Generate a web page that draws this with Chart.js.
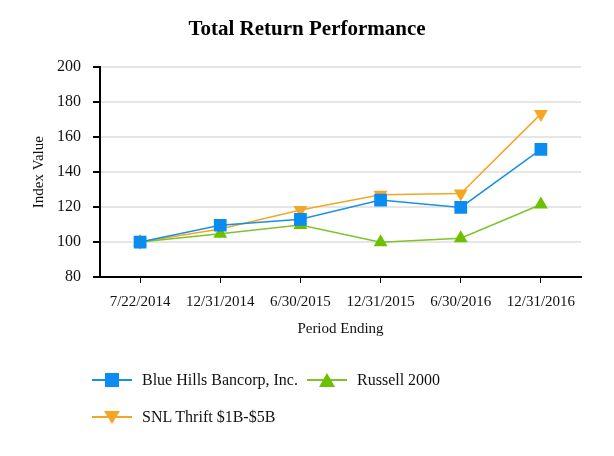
<!DOCTYPE html>
<html>
<head>
<meta charset="utf-8">
<script src="https://cdn.jsdelivr.net/npm/chart.js@4"></script>
<style>
  body { margin: 0; background: #fff; }
  #wrap { position: relative; width: 614px; height: 456px; }
  .leg { position: absolute; font: 16px "Liberation Serif", serif; color: #111; display: flex; align-items: center; }
  .leg svg { margin-right: 10px; }
</style>
</head>
<body>
<div id="wrap">
  <canvas id="grafico" width="614" height="456"></canvas>
  <div class="leg" style="left:92px; top:370px;">
    <svg width="40" height="20"><line x1="0" y1="10" x2="40" y2="10" stroke="#1a8fe3" stroke-width="2"/><rect x="13" y="3" width="14" height="14" fill="#0a8cf0"/></svg>Blue Hills Bancorp, Inc.
  </div>
  <div class="leg" style="left:307px; top:370px;">
    <svg width="40" height="20"><line x1="0" y1="10" x2="40" y2="10" stroke="#7dc42a" stroke-width="2"/><polygon points="20,3 28,17 12,17" fill="#6cc000"/></svg>Russell 2000
  </div>
  <div class="leg" style="left:92px; top:407px;">
    <svg width="40" height="20"><line x1="0" y1="10" x2="40" y2="10" stroke="#f5a623" stroke-width="2"/><polygon points="12,4 28,4 20,17" fill="#f5a623"/></svg>SNL Thrift $1B-$5B
  </div>
</div>
<script>
const periodos = ['7/22/2014', '12/31/2014', '6/30/2015', '12/31/2015', '6/30/2016', '12/31/2016'];
const blueHills = [100, 109.6, 113, 124, 119.8, 153];
const russell2000 = [100, 104.8, 109.7, 99.9, 102.2, 121.5];
const snlThrift = [100, 107.5, 118.3, 127.1, 127.8, 173.3];

const fonteX = { family: '"Liberation Serif", serif', size: 15 };
const fonteY = { family: '"Liberation Serif", serif', size: 16 };

const ctx = document.getElementById('grafico').getContext('2d');
// o primeiro dataset fica por cima
new Chart(ctx, {
  type: 'line',
  data: {
    labels: periodos,
    datasets: [
      {
        label: 'Blue Hills Bancorp, Inc.',
        data: blueHills,
        borderColor: '#1a8fe3',
        backgroundColor: '#0a8cf0',
        borderWidth: 1.5,
        pointStyle: 'rect',
        pointRadius: 9,
        pointBorderWidth: 0
      },
      {
        label: 'Russell 2000',
        data: russell2000,
        borderColor: '#7dc42a',
        backgroundColor: '#6cc000',
        borderWidth: 1.5,
        pointStyle: 'triangle',
        pointRadius: 8,
        pointBorderWidth: 0
      },
      {
        label: 'SNL Thrift $1B-$5B',
        data: snlThrift,
        borderColor: '#f5a623',
        backgroundColor: '#f5a623',
        borderWidth: 1.5,
        pointStyle: 'triangle',
        rotation: 180,
        pointRadius: 8,
        pointBorderWidth: 0
      }
    ]
  },
  options: {
    responsive: false,
    animation: false,
    layout: { padding: { left: 33, right: 33, bottom: 114 } },
    plugins: {
      legend: { display: false },
      tooltip: { enabled: false },
      title: {
        display: true,
        text: 'Total Return Performance',
        color: '#000',
        font: { family: '"Liberation Serif", serif', size: 21, weight: 'bold' },
        padding: { top: 17, bottom: 25 }
      }
    },
    scales: {
      x: {
        offset: true,
        afterFit: s => { s.height = 65; },
        grid: { display: true, drawOnChartArea: false, drawTicks: true, tickLength: 6, tickColor: '#000', offset: false },
        border: { color: '#000', width: 2 },
        ticks: { color: '#111', font: fonteX, padding: 10, maxRotation: 0 },
        title: { display: true, text: 'Period Ending', color: '#111', font: fonteX, padding: { top: 0, bottom: 4 } }
      },
      y: {
        min: 80,
        max: 200,
        afterFit: s => { s.width = 67; },
        grid: { color: '#e6e6e6', lineWidth: 2, tickColor: '#000', tickLength: 7 },
        border: { color: '#000', width: 2 },
        ticks: { stepSize: 20, color: '#111', font: fonteY, padding: 12 },
        title: { display: true, text: 'Index Value', color: '#111', font: fonteX, padding: { top: -3, bottom: 0 } }
      }
    }
  }
});
</script>
</body>
</html>
